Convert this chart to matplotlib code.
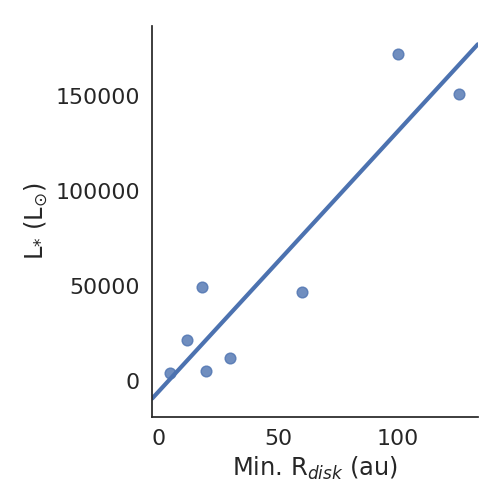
import numpy as np
import matplotlib
matplotlib.use("Agg")
import matplotlib.pyplot as plt
import seaborn as sns

# min disk radius (au) vs stellar luminosity (Lsun)
r_disk = np.array([5.0, 12.1, 18.3, 20.0, 30.0, 60.0, 100.0, 125.4])
lum = np.array([4300, 21600, 49400, 5300, 12100, 46900, 172000, 151000])

sns.set_theme(style="white", font_scale=1.45)

fig = plt.figure(figsize=(5.04, 5.04), dpi=100)
ax = fig.add_axes([0.302, 0.173, 0.646, 0.775])
ax.set_xlim(-2.5, 133.3)
ax.set_ylim(-18950, 186850)
sns.regplot(x=r_disk, y=lum, ci=None, ax=ax, color="#4c72b0", truncate=False,
            scatter_kws={"s": 60}, line_kws={"lw": 3})
ax.set_xlim(-2.5, 133.3)
ax.set_ylim(-18950, 186850)
ax.set_xticks([0, 50, 100])
ax.set_yticks([0, 50000, 100000, 150000])
ax.tick_params(pad=3)
ax.set_xlabel(r"Min. R$_{disk}$ (au)")
ax.set_ylabel(r"L$_{*}$ (L$_{\odot}$)")
sns.despine(ax=ax)

fig.savefig("out.png", dpi=100)
